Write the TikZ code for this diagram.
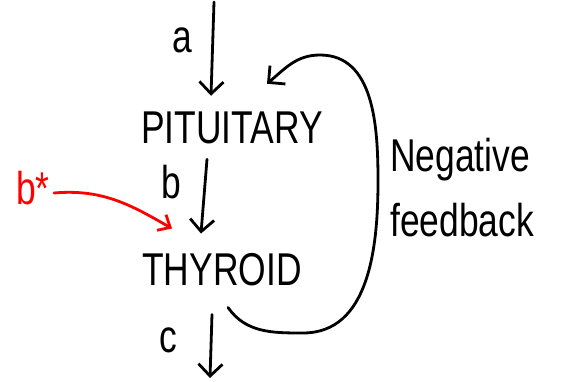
\documentclass[tikz,border=0pt]{standalone}
\usepackage{fontspec}
\newfontfamily\handfont[FakeStretch=0.77]{Liberation Sans}
\usetikzlibrary{positioning,arrows.meta}

\begin{document}
\begin{tikzpicture}[
  x=1pt, y=1pt,
  font=\handfont\fontsize{46}{50}\selectfont,
  hand/.style={inner sep=0pt},
  arr/.style={-{Straight Barb[length=12pt,width=24pt]}, line width=2.8pt, line cap=round},
  redarr/.style={arr, red, -{Straight Barb[length=10pt,width=18pt]}}
]
\useasboundingbox (0,0) rectangle (567,381);

% glands
\node[hand] (pit) at (232,253) {PITUITARY};
\node[hand] (thy) at (222,111) {THYROID};

% hormone labels
\node[hand] (alab) at (182,341) {a};
\node[hand] (blab) at (171,199) {b};
\node[hand] (clab) at (168,41) {c};
\node[hand, red] (bstar) at (33,193) {b*};

% feedback label
\node[hand, anchor=west] (neg) at (390,221) {Negative};
\node[hand, anchor=west] (fb) at (390,161) {feedback};

% main chain
\coordinate (atop) at (214,379);
\coordinate (cend) at (210,3);
\draw[arr] (atop) -- ([shift={(-21,16)}]pit.north);
\draw[arr] ([shift={(-25,-15)}]pit.south) -- ([shift={(-21,20)}]thy.north);
\draw[arr] ([shift={(-10,-28)}]thy.south) -- (cend);

% added b*
\draw[redarr] ([xshift=4pt,yshift=-5pt]bstar.east) to[out=5, in=150] ([shift={(-50,25)}]thy.north);

% negative feedback loop
\coordinate (fbbot) at (303,48);
\coordinate (fbright) at (378,200);
\coordinate (fbtop) at (320,326);
\draw[arr] ([shift={(6,-21)}]thy.south) to[out=-55, in=180] (fbbot)
  to[out=0, in=-90] (fbright) to[out=90, in=0] (fbtop)
  to[out=180, in=40] ([shift={(35,28)}]pit.north);
\end{tikzpicture}
\end{document}
